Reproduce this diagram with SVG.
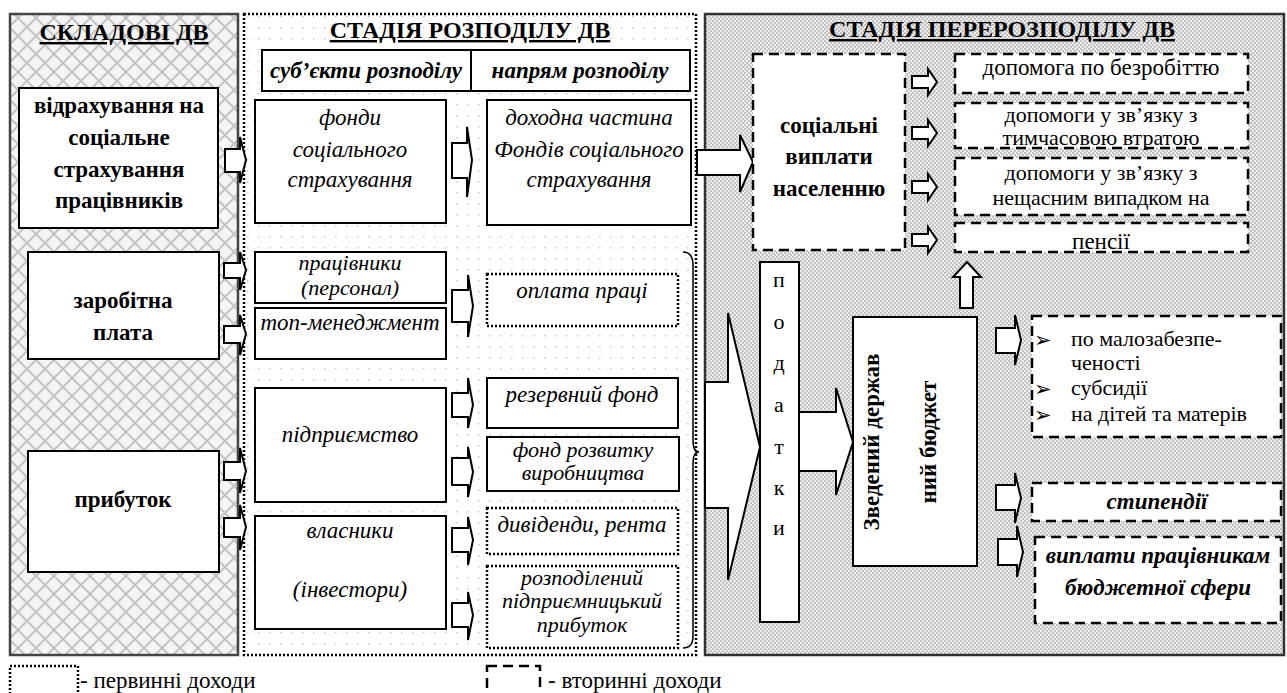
<svg xmlns="http://www.w3.org/2000/svg" width="1287" height="693" viewBox="0 0 1287 693">
<defs>
<pattern id="lat" width="18" height="18" patternUnits="userSpaceOnUse">
<rect width="18" height="18" fill="#f4f4f4"/>
<path d="M0,0 L18,18 M18,0 L0,18" stroke="#c4c4c4" stroke-width="2"/>
</pattern>
<pattern id="dots" width="11" height="11" patternUnits="userSpaceOnUse">
<rect width="11" height="11" fill="#fff"/>
<rect x="5" y="5" width="1.5" height="1.5" fill="#c8c8c8"/>
</pattern>
<pattern id="chk" width="4" height="4" patternUnits="userSpaceOnUse">
<rect width="4" height="4" fill="#ececec"/>
<rect width="2" height="2" fill="#c2c2c2"/>
<rect x="2" y="2" width="2" height="2" fill="#c2c2c2"/>
</pattern>
<style>
.t{font-family:"Liberation Serif","Times New Roman",serif;font-size:23px;fill:#000;text-anchor:middle}
.s{font-size:22px}
.b{font-weight:bold}
.i{font-style:italic}
.ttl{font-family:"Liberation Serif","Times New Roman",serif;font-size:24px;font-weight:bold;text-decoration:underline;text-anchor:middle}
.box{fill:#fff;stroke:#000;stroke-width:2}
.dot{fill:#fff;stroke:#000;stroke-width:2.5;stroke-dasharray:2 2}
.dash{fill:#fff;stroke:#000;stroke-width:2.5;stroke-dasharray:10 6}
.arr{fill:#fff;stroke:#000;stroke-width:2;stroke-linejoin:miter}
.bul{font-family:"DejaVu Sans",sans-serif;font-size:21px}
</style>
</defs>
<rect width="1287" height="693" fill="#fff"/>

<g id="panel-left">
<rect x="10" y="14" width="228" height="641" fill="url(#lat)" stroke="#444" stroke-width="2.5"/>
<text class="ttl" x="124" y="40">СКЛАДОВІ ДВ</text>
</g>
<g id="panel-middle">
<rect x="244" y="14" width="452" height="641" fill="url(#dots)" stroke="#000" stroke-width="2.5" stroke-dasharray="2 2"/>
<text class="ttl" x="470" y="38">СТАДІЯ РОЗПОДІЛУ ДВ</text>
</g>
<g id="panel-right">
<rect x="705" y="14" width="579" height="641" fill="url(#chk)" stroke="#333" stroke-width="2.5"/>
<text class="ttl" x="1002" y="37">СТАДІЯ ПЕРЕРОЗПОДІЛУ ДВ</text>
</g>

<g id="connectors">
<polygon class="arr" points="225,149 240,149 240,137 246,160 240,183 240,172 225,172"/>
<polygon class="arr" points="224,263 240,263 240,252 246,270 240,290 240,278 224,278"/>
<polygon class="arr" points="224,326 240,326 240,315 246,334 240,355 240,343 224,343"/>
<polygon class="arr" points="224,462 240,462 240,448 246,471 240,493 240,480 224,480"/>
<polygon class="arr" points="224,518 240,518 240,505 246,527 240,550 240,537 224,537"/>
<polygon class="arr" points="452,143 467,143 467,127 472,160 467,197 467,178 452,178"/>
<polygon class="arr" points="452,290 468,290 468,275 473,306 468,337 468,322 452,322"/>
<polygon class="arr" points="452,393 468,393 468,378 473,405 468,428 468,417 452,417"/>
<polygon class="arr" points="452,458 468,458 468,447 473,472 468,497 468,485 452,485"/>
<polygon class="arr" points="452,528 468,528 468,517 473,540 468,565 468,552 452,552"/>
<polygon class="arr" points="452,603 468,603 468,592 473,615 468,640 468,627 452,627"/>
<path d="M683,252 Q693,252 693,265 V440 Q693,452 699,452 Q693,452 693,464 V636 Q693,648 683,648" fill="none" stroke="#000" stroke-width="1.5"/>
<polygon class="arr" points="697,150 740,150 740,135 753,162 740,192 740,175 697,175"/>
<polygon class="arr" points="912,76 928,76 928,69 937,82 928,95 928,88 912,88"/>
<polygon class="arr" points="912,127 928,127 928,120 937,133 928,146 928,139 912,139"/>
<polygon class="arr" points="912,181 928,181 928,174 937,187 928,200 928,193 912,193"/>
<polygon class="arr" points="912,234 928,234 928,227 937,240 928,253 928,246 912,246"/>
<polygon class="arr" points="705,382 728,382 728,313 760,447 728,580 728,508 705,508"/>
<polygon class="arr" points="799,412 836,412 836,388 853,442 836,495 836,471 799,471"/>
<polygon class="arr" points="967,262 981,277 973,277 973,308 960,308 960,277 953,277"/>
<polygon class="arr" points="996,328 1015,328 1015,315 1021,340 1015,365 1015,353 996,353"/>
<polygon class="arr" points="996,485 1015,485 1015,473 1021,498 1015,523 1015,510 996,510"/>
<polygon class="arr" points="998,539 1017,539 1017,526 1023,552 1017,577 1017,565 998,565"/>
</g>

<g id="n-vidrakhuvannia">
<rect class="box" x="19" y="88" width="199" height="140"/>
<text class="t b" x="119" y="113">відрахування на</text>
<text class="t b" x="119" y="145">соціальне</text>
<text class="t b" x="119" y="177">страхування</text>
<text class="t b" x="119" y="208">працівників</text>
</g>
<g id="n-zarplata">
<rect class="box" x="28" y="252" width="191" height="107"/>
<text class="t b" x="123" y="308">заробітна</text>
<text class="t b" x="123" y="340">плата</text>
</g>
<g id="n-prybutok">
<rect class="box" x="28" y="451" width="191" height="121"/>
<text class="t b" x="123" y="507">прибуток</text>
</g>

<g id="n-header">
<rect class="box" x="262" y="50" width="428" height="41"/>
<line x1="471" y1="50" x2="471" y2="91" stroke="#000" stroke-width="2"/>
<text class="t b i" x="366" y="78">суб’єкти розподілу</text>
<text class="t b i" x="580" y="78">напрям розподілу</text>
</g>
<g id="n-fondy">
<rect class="box" x="255" y="100" width="191" height="123"/>
<text class="t i" x="350" y="125">фонди</text>
<text class="t i" x="350" y="157">соціального</text>
<text class="t i" x="350" y="187">страхування</text>
</g>
<g id="n-dokhodna">
<rect class="box" x="487" y="100" width="204" height="125"/>
<text class="t i" x="589" y="125">доходна частина</text>
<text class="t i" x="589" y="157">Фондів соціального</text>
<text class="t i" x="589" y="187">страхування</text>
</g>
<g id="n-pratsivnyky">
<rect class="box" x="255" y="252" width="191" height="51"/>
<text class="t i s" x="350" y="270">працівники</text>
<text class="t i s" x="350" y="295">(персонал)</text>
</g>
<g id="n-top">
<rect class="box" x="255" y="308" width="191" height="51"/>
<text class="t i" x="350" y="330">топ-менеджмент</text>
</g>
<g id="n-oplata">
<rect class="dot" x="487" y="274" width="191" height="52"/>
<text class="t i" x="582" y="298">оплата праці</text>
</g>
<g id="n-pidpryiemstvo">
<rect class="box" x="255" y="388" width="191" height="114"/>
<text class="t i" x="350" y="442">підприємство</text>
</g>
<g id="n-rezerv">
<rect class="box" x="487" y="378" width="191" height="50"/>
<text class="t i" x="582" y="402">резервний фонд</text>
</g>
<g id="n-rozvytok">
<rect class="box" x="487" y="437" width="192" height="54"/>
<text class="t i s" x="583" y="457">фонд розвитку</text>
<text class="t i s" x="583" y="480">виробництва</text>
</g>
<g id="n-vlasnyky">
<rect class="box" x="255" y="516" width="191" height="113"/>
<text class="t i" x="350" y="538">власники</text>
<text class="t i" x="350" y="597">(інвестори)</text>
</g>
<g id="n-dyvidendy">
<rect class="dot" x="487" y="508" width="191" height="46"/>
<text class="t i" x="582" y="532">дивіденди, рента</text>
</g>
<g id="n-rozpodilenyi">
<rect class="dot" x="487" y="566" width="191" height="82"/>
<text class="t i s" x="582" y="585">розподілений</text>
<text class="t i s" x="582" y="608">підприємницький</text>
<text class="t i s" x="582" y="632">прибуток</text>
</g>

<g id="n-sotsialni">
<rect class="dash" x="753" y="54" width="152" height="196"/>
<text class="t b" x="829" y="133">соціальні</text>
<text class="t b" x="829" y="164">виплати</text>
<text class="t b" x="829" y="196">населенню</text>
</g>
<g id="n-bezrobittia">
<rect class="dash" x="955" y="54" width="293" height="39"/>
<text class="t" x="1101" y="75">допомога по безробіттю</text>
</g>
<g id="n-tymchasova">
<rect class="dash" x="955" y="103" width="293" height="45"/>
<text class="t s" x="1101" y="122">допомоги у зв’язку з</text>
<text class="t s" x="1101" y="145">тимчасовою втратою</text>
</g>
<g id="n-neshchasnyi">
<rect class="dash" x="955" y="158" width="293" height="57"/>
<text class="t s" x="1101" y="180">допомоги у зв’язку з</text>
<text class="t s" x="1101" y="205">нещасним випадком на</text>
</g>
<g id="n-pensii">
<rect class="dash" x="955" y="223" width="293" height="29"/>
<text class="t" x="1101" y="249">пенсії</text>
</g>
<g id="n-podatky">
<rect class="box" x="760" y="262" width="39" height="360"/>
<text class="t s" x="779" y="287">п</text>
<text class="t s" x="779" y="329">о</text>
<text class="t s" x="779" y="370">д</text>
<text class="t s" x="779" y="412">а</text>
<text class="t s" x="779" y="454">т</text>
<text class="t s" x="779" y="495">к</text>
<text class="t s" x="779" y="535">и</text>
</g>
<g id="n-biudzhet">
<rect class="box" x="853" y="317" width="124" height="249"/>
<text class="t b" transform="translate(879,442) rotate(-90)">Зведений держав</text>
<text class="t b" transform="translate(936,442) rotate(-90)">ний бюджет</text>
</g>
<g id="n-malozabezpechenist">
<rect class="dash" x="1032" y="316" width="249" height="121"/>
<text class="bul" x="1034" y="347">➢</text>
<text class="bul" x="1034" y="396">➢</text>
<text class="bul" x="1034" y="422">➢</text>
<text class="t s" style="text-anchor:start" x="1071" y="346">по малозабезпе-</text>
<text class="t s" style="text-anchor:start" x="1071" y="370">ченості</text>
<text class="t s" style="text-anchor:start" x="1071" y="395">субсидії</text>
<text class="t s" style="text-anchor:start" x="1071" y="421">на дітей та матерів</text>
</g>
<g id="n-stypendii">
<rect class="dash" x="1032" y="483" width="249" height="38"/>
<text class="t b i" x="1157" y="509">стипендії</text>
</g>
<g id="n-vyplaty">
<rect class="dash" x="1035" y="537" width="246" height="86"/>
<text class="t b i" x="1158" y="563">виплати працівникам</text>
<text class="t b i" x="1158" y="595">бюджетної сфери</text>
</g>

<g id="legend">
<rect class="dot" x="10" y="666" width="68" height="30"/>
<text class="t" style="text-anchor:start" x="80" y="688">- первинні доходи</text>
<rect class="dash" x="487" y="666" width="53" height="30"/>
<text class="t" style="text-anchor:start" x="548" y="688">- вторинні доходи</text>
</g>
</svg>
